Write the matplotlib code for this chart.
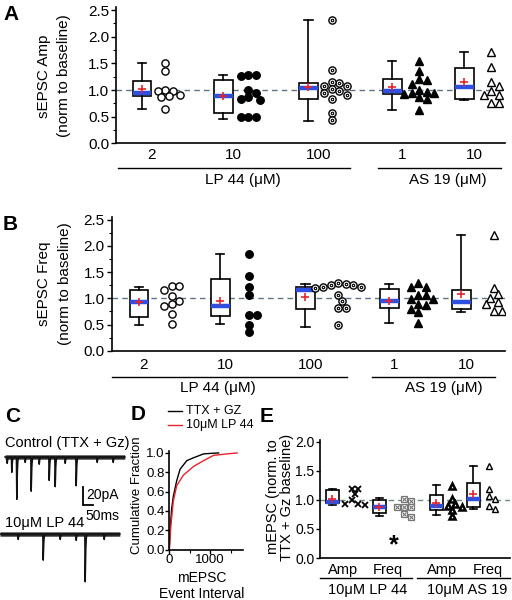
import numpy as np
import matplotlib
matplotlib.use('Agg')
import matplotlib.pyplot as plt
from matplotlib.ticker import MultipleLocator, FormatStrFormatter

plt.rcParams['font.family'] = ['Liberation Sans', 'DejaVu Sans']
plt.rcParams['font.size'] = 10.5

W, H = 512, 600
BLUE = '#2f4fe0'
RED = '#e8222c'

# ---------------- data ----------------
conc_labels = ['2', '10', '100', '1', '10']

# panel A: sEPSC amplitude, normalised to baseline
amp_points = [
    [1.51, 1.36, 1.0, 0.98, 0.99, 0.88, 0.87, 0.91, 0.64],
    [1.28, 1.28, 1.26, 1.0, 0.94, 0.87, 0.83, 0.82, 0.49, 0.5, 0.5],
    [2.31, 1.37, 1.14, 1.08, 1.08, 1.15, 1.02, 0.91, 0.84, 0.95, 0.98, 0.56, 0.43],
    [1.54, 1.35, 1.2, 1.18, 1.12, 0.97, 1.0, 0.95, 0.94, 0.93, 0.86, 0.84, 0.63],
    [1.71, 1.44, 1.15, 1.07, 0.99, 0.91, 0.91, 0.75, 0.75],
]
amp_lo = [0.64, 0.46, 0.42, 0.63, 0.82]
amp_q1 = [0.89, 0.56, 0.83, 0.93, 0.84]
amp_med = [0.94, 0.89, 1.04, 0.99, 1.05]
amp_q3 = [1.16, 1.19, 1.14, 1.2, 1.41]
amp_hi = [1.51, 1.28, 2.31, 1.54, 1.71]
amp_mean = [1.01, 0.89, 1.05, 1.05, 1.15]

# panel B: sEPSC frequency, normalised to baseline
freq_points = [
    [1.23, 1.23, 1.15, 1.04, 0.95, 0.9, 0.85, 0.71, 0.51],
    [1.84, 1.42, 1.21, 1.07, 0.69, 0.68, 0.49, 0.35],
    [1.3, 1.21, 1.25, 1.25, 1.19, 1.28, 1.22, 1.06, 0.94, 0.81, 0.81, 0.49],
    [1.29, 1.22, 1.22, 1.06, 1.06, 0.98, 0.98, 0.89, 0.87, 0.8, 0.73, 0.53],
    [2.21, 1.19, 1.08, 1.0, 0.92, 0.9, 0.76, 0.76],
]
freq_lo = [0.49, 0.51, 0.46, 0.53, 0.73]
freq_q1 = [0.65, 0.66, 0.79, 0.81, 0.79]
freq_med = [0.92, 0.85, 1.15, 0.95, 0.92]
freq_q3 = [1.15, 1.36, 1.22, 1.17, 1.15]
freq_hi = [1.21, 1.84, 1.27, 1.27, 2.21]
freq_mean = [0.92, 0.95, 1.03, 0.95, 1.08]

# panel C: example traces, events as (time ms, amplitude pA)
control_events = [(10, 7), (33, 17), (58, 47), (100, 6), (130, 38), (170, 8),
                  (220, 26), (250, 33), (300, 7), (355, 32), (460, 6), (540, 6)]
lp44_events = [(90, 6), (215, 29), (300, 6), (380, 7), (425, 53), (520, 6)]
event_shape = [0.55, 1.0, 0.75, 0.5, 0.32, 0.2, 0.12, 0.07, 0.04, 0.02]
trace_len_ms = 600

# panel D: cumulative fraction of mEPSC intervals
ttx_interval = [0, 19, 57, 98, 180, 262, 426, 592, 837, 1000, 1205]
ttx_cum = [0, 0.2, 0.42, 0.55, 0.71, 0.83, 0.92, 0.95, 0.99, 0.995, 1.0]
lp_interval = [0, 41, 98, 180, 344, 428, 592, 837, 1083, 1410, 1656]
lp_cum = [0, 0.26, 0.5, 0.66, 0.77, 0.8, 0.86, 0.92, 0.975, 0.99, 1.0]

# panel E: mEPSC amp / freq normalised to TTX + Gz baseline
e_labels = ['Amp', 'Freq', 'Amp', 'Freq']
e_points = [
    [1.18, 1.1, 1.18, 0.99, 0.93, 0.91, 0.93],
    [0.98, 1.01, 0.87, 0.87, 0.88, 0.71, 0.75],
    [1.24, 1.02, 0.93, 0.87, 0.9, 0.72, 0.82],
    [1.58, 1.18, 1.06, 1.01, 0.89, 0.84],
]
e_lo = [0.92, 0.72, 0.74, 0.85]
e_q1 = [0.94, 0.77, 0.82, 0.88]
e_med = [0.97, 0.87, 0.9, 1.02]
e_q3 = [1.17, 1.0, 1.09, 1.29]
e_hi = [1.18, 1.03, 1.25, 1.58]
e_mean = [1.02, 0.88, 0.95, 1.1]

# ---------------- helpers ----------------
fig = plt.figure(figsize=(W / 100, H / 100), dpi=100)


def add_ax(left, top, right, bottom):
    return fig.add_axes([left / W, 1 - bottom / H, (right - left) / W, (bottom - top) / H])


def ftext(x, y, s, **kw):
    return fig.text(x / W, 1 - y / H, s, **kw)


def swarm_x(values, center, sx, sy, diam):
    # simple deterministic beeswarm, worked out in pixels
    vals = np.asarray(values, float)
    xs = np.zeros(len(vals))
    placed = []
    step = diam * 0.5
    lim = (diam * 0.85) ** 2
    for i in np.argsort(-vals):
        y = vals[i] * sy
        k = 0
        chosen = None
        while chosen is None:
            cands = [0.0] if k == 0 else [k * step, -k * step]
            for c in cands:
                if all((c - px) ** 2 + (y - py) ** 2 >= lim for px, py in placed):
                    chosen = c
                    break
            k += 1
        placed.append((chosen, y))
        xs[i] = chosen
    xs -= (xs.max() + xs.min()) / 2
    return center + xs / sx


def make_stats(lo, q1, med, q3, hi, mean):
    return [dict(whislo=a, q1=b, med=c, q3=d, whishi=e, mean=f, fliers=[])
            for a, b, c, d, e, f in zip(lo, q1, med, q3, hi, mean)]


def draw_boxes(ax, stats, positions, width, capw, lw=1.2):
    ax.bxp(stats, positions=positions, widths=width, capwidths=capw,
           showmeans=True, showfliers=False, patch_artist=True, manage_ticks=False,
           boxprops=dict(facecolor='white', edgecolor='black', linewidth=lw),
           whiskerprops=dict(color='black', linewidth=lw),
           capprops=dict(color='black', linewidth=lw),
           medianprops=dict(color=BLUE, linewidth=3.2, solid_capstyle='butt'),
           meanprops=dict(marker='+', markeredgecolor=RED, markersize=6,
                          markeredgewidth=1.2, linestyle='none'),
           zorder=3)


def style_axis(ax):
    for s in ['top', 'right']:
        ax.spines[s].set_visible(False)
    for s in ['left', 'bottom']:
        ax.spines[s].set_linewidth(1.2)


def group_line(ax, x0, x1, y):
    ax.plot([x0, x1], [y, y], color='black', lw=1.0, clip_on=False,
            transform=ax.get_xaxis_transform())


a_styles = [
    dict(marker='o', ms=5.2, mfc='white', mec='black', mew=1.0),
    dict(marker='o', ms=5.4, mfc='black', mec='black', mew=1.0),
    dict(marker='o', ms=5.2, mfc='white', mec='black', mew=1.0),
    dict(marker='^', ms=5.6, mfc='black', mec='black', mew=1.0),
    dict(marker='^', ms=5.6, mfc='white', mec='black', mew=1.0),
]
box_pos = np.array([0.0, 0.99, 2.03, 3.05, 3.93])


def group_panel(ax, points, stats, sy, tick_off, scat_off, lp_line, as_line,
                lp_lab, as_lab, line_y, lab_y, ylab_lines, lab_x, ylab_y, tick_pad):
    style_axis(ax)
    ax.axhline(1.0, color='#607585', lw=1.0, dashes=(4, 3), zorder=1)
    draw_boxes(ax, stats, box_pos, 0.23, 0.1)
    for i, vals in enumerate(points):
        xs = swarm_x(vals, box_pos[i] + scat_off, 82, sy, 7.6)
        ax.plot(xs, vals, linestyle='none', zorder=4, **a_styles[i])
        if i == 2:
            ax.plot(xs, vals, linestyle='none', marker='o', ms=1.8, mfc='none',
                    mec='black', mew=0.8, zorder=5)
    ax.set_ylim(0, 2.55)
    ax.yaxis.set_major_locator(MultipleLocator(0.5))
    ax.yaxis.set_minor_locator(MultipleLocator(0.25))
    ax.yaxis.set_major_formatter(FormatStrFormatter('%.1f'))
    ax.tick_params(axis='y', which='major', length=3.5, width=1.0, labelsize=11, pad=1.5)
    ax.tick_params(axis='y', which='minor', length=2, width=0.8)
    ax.set_xticks(box_pos + tick_off)
    ax.set_xticklabels(conc_labels)
    ax.tick_params(axis='x', length=0, labelsize=11, pad=tick_pad)
    group_line(ax, lp_line[0], lp_line[1], line_y)
    group_line(ax, as_line[0], as_line[1], line_y)
    ax.text(lp_lab, lab_y, 'LP 44 (μM)', transform=ax.get_xaxis_transform(),
            ha='center', va='center', fontsize=11)
    ax.text(as_lab, lab_y, 'AS 19 (μM)', transform=ax.get_xaxis_transform(),
            ha='center', va='center', fontsize=11)
    for (x, s) in zip(lab_x, ylab_lines):
        ftext(x, ylab_y, s, rotation=90, ha='center', va='center', fontsize=11)


# ---------------- panel A ----------------
axA = add_ax(116, 7.4, 505, 143.3)
group_panel(axA, amp_points,
            make_stats(amp_lo, amp_q1, amp_med, amp_q3, amp_hi, amp_mean),
            53.3, 0.12, 0.33, (-0.29, 2.54), (2.88, 4.38), 1.23, 3.73,
            -0.182, -0.27, ['sEPSC Amp', '(norm to baseline)'], [44, 64], 76, 3.5)
axA.set_xlim(-0.317, 4.427)

# ---------------- panel B ----------------
axB = add_ax(111.7, 217.1, 505, 350.7)
group_panel(axB, freq_points,
            make_stats(freq_lo, freq_q1, freq_med, freq_q3, freq_hi, freq_mean),
            52.4, 0.06, 0.4, (-0.33, 2.54), (2.84, 4.34), 0.96, 3.72,
            -0.195, -0.279, ['sEPSC Freq', '(norm to baseline)'], [44, 65], 284, 5.5)
axB.set_xlim(-0.333, 4.463)

# ---------------- panel C ----------------
axC = add_ax(0, 430, 128, 590)
axC.axis('off')
axC.set_xlim(0, 640)
axC.set_ylim(-160 / 0.9, 0)
t = np.arange(trace_len_ms)
shape = np.array(event_shape)


def build_trace(events):
    tr = np.zeros(trace_len_ms)
    for t0, amp in events:
        n = min(len(shape), trace_len_ms - t0)
        tr[t0:t0 + n] -= amp * shape[:n]
    return tr


for events, t_off, base in [(control_events, 25, -30.0), (lp44_events, 0, -115.6)]:
    tr = build_trace(events) + base
    axC.fill_between(t + t_off, base - 2.4, base + 2.4, color='#2a2a2a', lw=0)
    axC.plot(t + t_off, tr, color='#111111', lw=1.1)

# scale bar: 20 pA, 50 ms
axC.plot([415, 415, 465], [-63.3, -83.3, -83.3], color='black', lw=1.3,
         solid_joinstyle='miter')
axC.text(432, -72, '20pA', fontsize=10, va='center', ha='left')
axC.text(425, -95, '50ms', fontsize=10, va='center', ha='left')
ftext(5, 443, 'Control (TTX + Gz)', fontsize=10.5, va='center', ha='left')
ftext(5, 523, '10μM LP 44', fontsize=10.5, va='center', ha='left')

# ---------------- panel D ----------------
axD = add_ax(169.3, 451, 243, 549.5)
style_axis(axD)
axD.plot(ttx_interval, ttx_cum, color='black', lw=1.0)
axD.plot(lp_interval, lp_cum, color=RED, lw=1.0)
axD.set_xlim(0, 1800)
axD.set_ylim(0, 1.02)
axD.set_xticks([0, 1000])
axD.xaxis.set_minor_locator(MultipleLocator(500))
axD.yaxis.set_major_locator(MultipleLocator(0.2))
axD.yaxis.set_major_formatter(FormatStrFormatter('%.1f'))
axD.tick_params(axis='both', which='major', length=3, width=1.0, labelsize=9.5, pad=0.5)
axD.tick_params(axis='x', which='minor', length=2, width=0.8)
ftext(137, 495, 'Cumulative Fraction', rotation=90, ha='center', va='center', fontsize=9.5)
ftext(202, 578.5, 'mEPSC', ha='center', va='center', fontsize=10)
ftext(202, 594, 'Event Interval', ha='center', va='center', fontsize=10)
fig.lines.append(plt.Line2D([168 / W, 182 / W], [1 - 411 / H, 1 - 411 / H],
                            color='black', lw=1.0, transform=fig.transFigure))
fig.lines.append(plt.Line2D([168 / W, 182 / W], [1 - 425 / H, 1 - 425 / H],
                            color=RED, lw=1.0, transform=fig.transFigure))
ftext(186, 411, 'TTX + GZ', ha='left', va='center', fontsize=9)
ftext(186, 425, '10μM LP 44', ha='left', va='center', fontsize=9)

# ---------------- panel E ----------------
axE = add_ax(320, 440, 510, 558)
style_axis(axE)
e_box = np.array([0.0, 0.94, 2.08, 2.82])
e_ticks = np.array([0.22, 1.12, 2.2, 3.12])
e_scat = np.array([0.46, 1.44, 2.46, 3.2])
axE.axhline(1.0, color='#6f8a78', lw=1.0, dashes=(4, 3), zorder=1)
draw_boxes(axE, make_stats(e_lo, e_q1, e_med, e_q3, e_hi, e_mean), e_box, 0.26, 0.14)
e_styles = [
    dict(marker='x', ms=4.5, mec='black', mew=1.3),
    dict(marker='s', ms=4.5, mfc='white', mec='#777777', mew=0.9),
    dict(marker='^', ms=4.8, mfc='white', mec='black', mew=1.8),
    dict(marker='^', ms=4.8, mfc='white', mec='black', mew=1.0),
]
for i, vals in enumerate(e_points):
    xs = swarm_x(vals, e_scat[i], 50, 58, 6.6)
    axE.plot(xs, vals, linestyle='none', zorder=4, **e_styles[i])
    if i == 1:
        axE.plot(xs, vals, linestyle='none', marker='x', ms=3, mec='#777777',
                 mew=0.8, zorder=5)
axE.text(1.24, 0.22, '*', fontsize=18, fontweight='bold', ha='center', va='center')
axE.set_xlim(-0.24, 3.56)
axE.set_ylim(0, 2.03)
axE.yaxis.set_major_locator(MultipleLocator(0.5))
axE.yaxis.set_major_formatter(FormatStrFormatter('%.1f'))
axE.tick_params(axis='y', length=3, width=1.0, labelsize=10, pad=1)
axE.set_xticks(e_ticks)
axE.set_xticklabels(e_labels)
axE.tick_params(axis='x', length=0, labelsize=10.5, pad=3.5)
group_line(axE, -0.24, 1.6, -0.172)
group_line(axE, 1.7, 3.56, -0.172)
axE.text(0.72, -0.271, '10μM LP 44', transform=axE.get_xaxis_transform(),
         ha='center', va='center', fontsize=10.5)
axE.text(2.7, -0.271, '10μM AS 19', transform=axE.get_xaxis_transform(),
         ha='center', va='center', fontsize=10.5)
ftext(273, 497, 'mEPSC (norm. to', rotation=90, ha='center', va='center', fontsize=10.5)
ftext(287, 497, 'TTX + Gz baseline)', rotation=90, ha='center', va='center', fontsize=10.5)

# ---------------- panel letters ----------------
for letter, x, y in [('A', 3, 5), ('B', 3, 215), ('C', 5, 407), ('D', 131, 405), ('E', 260, 407)]:
    ftext(x, y, letter, fontsize=15, fontweight='bold', ha='left', va='top')

fig.savefig('out.png', dpi=100)
